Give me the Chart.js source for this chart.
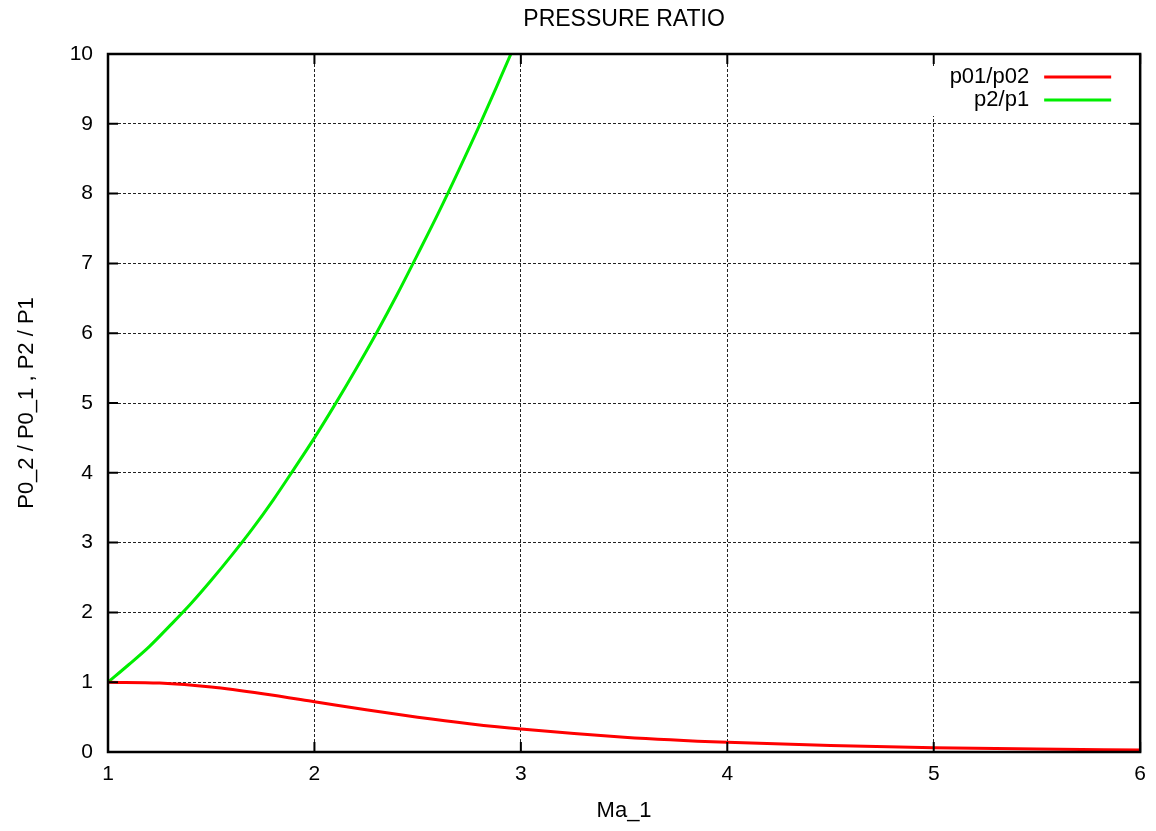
<!DOCTYPE html>
<html>
<head>
<meta charset="utf-8">
<script src="https://cdn.jsdelivr.net/npm/chart.js@4/dist/chart.umd.min.js"></script>
<style>
  html, body { margin: 0; padding: 0; background: #fff; }
  #wrap { width: 1156px; height: 831px; }
</style>
</head>
<body>
<div id="wrap"><canvas id="myChart" width="1156" height="831"></canvas></div>
<script>
// data
const machGreen = [1.0, 1.1, 1.2, 1.3, 1.4, 1.5, 1.6, 1.7, 1.8, 1.9, 2.0, 2.1, 2.2, 2.3, 2.4, 2.5, 2.6, 2.7, 2.8, 2.9, 3.0];
const p2p1 = [1.0, 1.25, 1.51, 1.81, 2.12, 2.46, 2.82, 3.2, 3.61, 4.05, 4.5, 4.98, 5.48, 6.0, 6.55, 7.13, 7.72, 8.34, 8.98, 9.65, 10.33];
const machRed = [1.0, 1.25, 1.5, 1.75, 2.0, 2.25, 2.5, 2.75, 3.0, 3.5, 4.0, 4.5, 5.0, 5.5, 6.0];
const p01p02 = [1.0, 0.987, 0.93, 0.835, 0.721, 0.604, 0.499, 0.406, 0.328, 0.213, 0.139, 0.092, 0.062, 0.042, 0.03];
const seriesNames = ['p01/p02', 'p2/p1'];
const seriesColors = ['#ff0000', '#00ee00'];
const chartTitle = 'PRESSURE RATIO';

const font = "'Liberation Sans', Arial, sans-serif";

// gnuplot-ish frame: title over plot, full border, inward ticks, legend box
const framePlugin = {
  id: 'frame',
  afterDatasetsDraw(chart) {
    const ctx = chart.ctx;
    const a = chart.chartArea;
    const xs = chart.scales.x, ys = chart.scales.y;
    ctx.save();
    ctx.fillStyle = '#000';
    ctx.font = '23px ' + font;
    ctx.textAlign = 'center';
    ctx.textBaseline = 'middle';
    ctx.fillText(chartTitle, (a.left + a.right) / 2, 20);
    // legend
    const rowH = 23;
    ctx.fillStyle = '#fff';
    ctx.fillRect(a.right - 210, a.top + 12, 200, 50);
    ctx.font = '22px ' + font;
    ctx.textAlign = 'right';
    seriesNames.forEach((n, i) => {
      const y = a.top + 23 + i * rowH;
      ctx.fillStyle = '#000';
      ctx.fillText(n, a.right - 111, y);
      ctx.strokeStyle = seriesColors[i];
      ctx.lineWidth = 3;
      ctx.beginPath();
      ctx.moveTo(a.right - 96, y);
      ctx.lineTo(a.right - 29, y);
      ctx.stroke();
    });
    // ticks
    ctx.strokeStyle = '#000';
    ctx.lineWidth = 2;
    ctx.beginPath();
    xs.ticks.forEach(t => {
      const x = xs.getPixelForValue(t.value);
      ctx.moveTo(x, a.bottom); ctx.lineTo(x, a.bottom - 10);
      ctx.moveTo(x, a.top); ctx.lineTo(x, a.top + 10);
    });
    ys.ticks.forEach(t => {
      const y = ys.getPixelForValue(t.value);
      ctx.moveTo(a.left, y); ctx.lineTo(a.left + 10, y);
      ctx.moveTo(a.right, y); ctx.lineTo(a.right - 10, y);
    });
    ctx.stroke();
    ctx.lineWidth = 2.5;
    ctx.strokeRect(a.left, a.top, a.right - a.left, a.bottom - a.top);
    ctx.restore();
  }
};

new Chart(document.getElementById('myChart'), {
  type: 'line',
  data: {
    datasets: [
      {
        label: seriesNames[0],
        data: machRed.map((m, i) => ({ x: m, y: p01p02[i] })),
        borderColor: seriesColors[0],
        borderWidth: 3,
        pointRadius: 0,
        cubicInterpolationMode: 'monotone'
      },
      {
        label: seriesNames[1],
        data: machGreen.map((m, i) => ({ x: m, y: p2p1[i] })),
        borderColor: seriesColors[1],
        borderWidth: 3,
        pointRadius: 0,
        cubicInterpolationMode: 'monotone'
      }
    ]
  },
  options: {
    responsive: false,
    animation: false,
    layout: { padding: { left: 0, right: 5, top: 54, bottom: 0 } },
    plugins: {
      legend: { display: false },
      tooltip: { enabled: false },
      title: { display: false }
    },
    scales: {
      x: {
        type: 'linear',
        min: 1, max: 6,
        afterFit(s) { s.height = 79; },
        ticks: { stepSize: 1, color: '#000', padding: 10, font: { family: font, size: 21 } },
        grid: { color: '#222', lineWidth: 1, drawTicks: false },
        border: { display: false, dash: [3, 2] },
        title: { display: true, text: 'Ma_1', color: '#000', font: { family: font, size: 22 }, padding: { top: 0, bottom: 7 } }
      },
      y: {
        min: 0, max: 10,
        afterFit(s) { s.width = 108; },
        ticks: { stepSize: 1, color: '#000', padding: 15, font: { family: font, size: 21 } },
        grid: { color: '#222', lineWidth: 1, drawTicks: false },
        border: { display: false, dash: [3, 2] },
        title: { display: true, text: 'P0_2 / P0_1 , P2 / P1', color: '#000', font: { family: font, size: 22 }, padding: { top: 14, bottom: 0 } }
      }
    }
  },
  plugins: [framePlugin]
});
</script>
</body>
</html>
